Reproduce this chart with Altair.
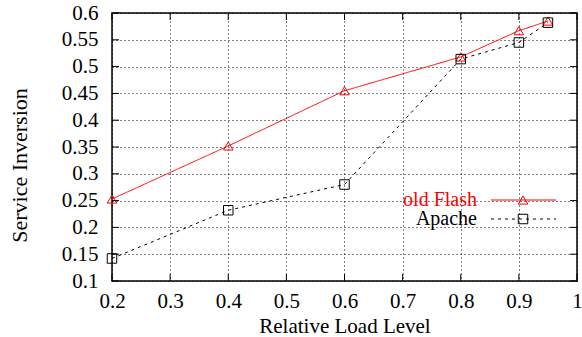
import altair as alt
import pandas as pd

# ---- data ----
load = [0.2, 0.4, 0.6, 0.8, 0.9, 0.95]
old_flash = [0.253, 0.352, 0.455, 0.518, 0.567, 0.585]
apache = [0.142, 0.232, 0.280, 0.514, 0.545, 0.582]
series = ["old Flash", "Apache"]
x_ticks = [0.2, 0.3, 0.4, 0.5, 0.6, 0.7, 0.8, 0.9, 1.0]
y_ticks = [0.1, 0.15, 0.2, 0.25, 0.3, 0.35, 0.4, 0.45, 0.5, 0.55, 0.6]

FONT = "Liberation Serif"
FS = 21
W, H = 465, 268
TICK = 7

rows = []
for name, vals in zip(series, [old_flash, apache]):
    for i, (x, y) in enumerate(zip(load, vals)):
        rows.append({"series": name, "load": x, "inv": y, "order": i})
df = pd.DataFrame(rows)

xscale = alt.Scale(domain=[0.2, 1.0], nice=False, zero=False)
yscale = alt.Scale(domain=[0.1, 0.6], nice=False, zero=False)
color = alt.Color("series:N", scale=alt.Scale(domain=series, range=["#ff0000", "#000000"]), legend=None)
dash = alt.StrokeDash("series:N", scale=alt.Scale(domain=series, range=[[1, 0], [3, 4]]), legend=None)
shape = alt.Shape("series:N", scale=alt.Scale(domain=series, range=["triangle-up", "square"]), legend=None)

xaxis = alt.Axis(values=x_ticks, format="~g", grid=True, gridDash=[1, 3], gridColor="black",
                 gridOpacity=1, ticks=False, tickSize=0, domain=False, labelFlush=False,
                 labelOverlap=False, labelPadding=26, labelBaseline="alphabetic",
                 labelFont=FONT, labelFontSize=FS, labelColor="black",
                 title="Relative Load Level", titleFont=FONT, titleFontSize=FS,
                 titleFontWeight="normal", titleColor="black", titleY=51,
                 titleBaseline="alphabetic")
yaxis = alt.Axis(values=y_ticks, format="~g", grid=True, gridDash=[1, 3], gridColor="black",
                 gridOpacity=1, ticks=False, tickSize=0, domain=False, labelFlush=False,
                 labelOverlap=False, labelPadding=14, labelBaseline="middle",
                 labelFont=FONT, labelFontSize=FS, labelColor="black",
                 title="Service Inversion", titleFont=FONT, titleFontSize=22,
                 titleFontWeight="normal", titleColor="black", titleX=-86, titleY=152,
                 titleBaseline="alphabetic", titleAlign="center", titleAngle=270)

base = alt.Chart(df)
lines = base.mark_line(strokeWidth=1).encode(
    x=alt.X("load:Q", scale=xscale, axis=xaxis),
    y=alt.Y("inv:Q", scale=yscale, axis=yaxis),
    color=color, strokeDash=dash, detail="series:N", order="order:Q")
points = base.mark_point(filled=False, size=90, strokeWidth=1, opacity=1).encode(
    x=alt.X("load:Q", scale=xscale, axis=xaxis), y=alt.Y("inv:Q", scale=yscale, axis=yaxis),
    color=color, shape=shape)

# inward ticks on all four sides
xt = pd.DataFrame({"t": x_ticks})
yt = pd.DataFrame({"t": y_ticks})
tick_style = dict(color="black", strokeWidth=1)
top_ticks = alt.Chart(xt).mark_rule(**tick_style).encode(
    x=alt.X("t:Q", scale=xscale, axis=xaxis), y=alt.value(0), y2=alt.value(TICK))
bot_ticks = alt.Chart(xt).mark_rule(**tick_style).encode(
    x=alt.X("t:Q", scale=xscale, axis=xaxis), y=alt.value(H), y2=alt.value(H - TICK))
left_ticks = alt.Chart(yt).mark_rule(**tick_style).encode(
    y=alt.Y("t:Q", scale=yscale, axis=yaxis), x=alt.value(0), x2=alt.value(TICK))
right_ticks = alt.Chart(yt).mark_rule(**tick_style).encode(
    y=alt.Y("t:Q", scale=yscale, axis=yaxis), x=alt.value(W), x2=alt.value(W - TICK))

# legend (drawn inside the plot, gnuplot style)
legend_layers = []
leg_rows = [(series[0], "#ff0000", [1, 0], "triangle-up", 187, 193),
            (series[1], "#000000", [3, 4], "square", 206, 212)]
for name, col, dsh, shp, ly, ty in leg_rows:
    ldf = pd.DataFrame({"name": [name]})
    legend_layers.append(alt.Chart(ldf).mark_text(
        align="right", baseline="alphabetic", font=FONT, fontSize=20, color=col).encode(
        text="name:N", x=alt.value(365), y=alt.value(ty)))
    legend_layers.append(alt.Chart(ldf).mark_rule(color=col, strokeWidth=1, strokeDash=dsh).encode(
        x=alt.value(379), x2=alt.value(444), y=alt.value(ly)))
    legend_layers.append(alt.Chart(ldf).mark_point(
        shape=shp, color=col, filled=False, size=90, strokeWidth=1, opacity=1).encode(
        x=alt.value(411), y=alt.value(ly)))

chart = alt.layer(lines, points, top_ticks, bot_ticks, left_ticks, right_ticks,
                  *legend_layers).properties(
    width=W, height=H,
    autosize=alt.AutoSizeParams(type="none"),
    padding={"left": 112, "top": 13, "right": 5, "bottom": 56},
    background="white",
).configure_view(stroke="black", strokeWidth=1.5)

chart.save("out.html", embed_options={"renderer": "svg", "actions": False})
